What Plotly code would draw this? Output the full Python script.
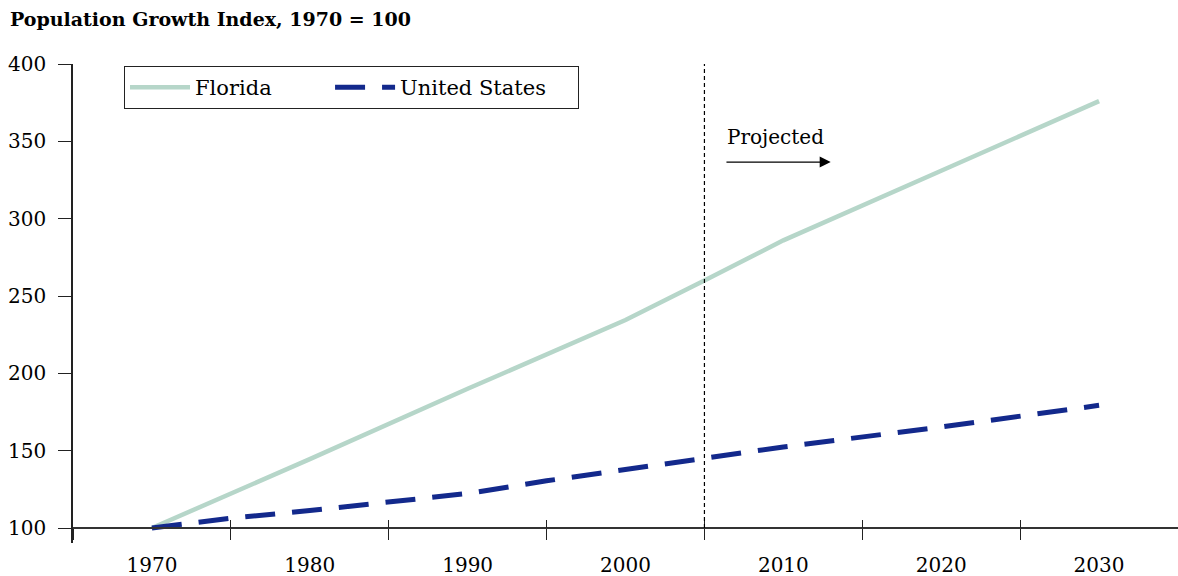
import plotly.graph_objects as go

# ---- data ----
fl_years = [1970, 1980, 1990, 2000, 2005, 2010, 2020, 2030]
fl_index = [100, 144.5, 190, 234.5, 260, 286, 331, 376]

us_years = [1970, 1975, 1980, 1985, 1990, 1995, 2000, 2005, 2010, 2020, 2030]
us_index = [100, 106.3, 111.3, 116.6, 122.3, 130.5, 137.8, 144.7, 152.4, 165.3, 179.3]

label_years = [1970, 1980, 1990, 2000, 2010, 2020, 2030]
tick_years = [1965, 1975, 1985, 1995, 2005, 2015, 2025]
y_ticks = [100, 150, 200, 250, 300, 350, 400]
projection_start = 2005

FONT = "DejaVu Serif"
W, H = 1178, 576
Y_MIN, Y_MAX = 90.3, 400
X_MIN, X_MAX = 1965, 2035

fig = go.Figure()
fig.add_trace(go.Scatter(
    x=fl_years, y=fl_index, mode="lines", name="Florida" + "\u00a0" * 8,
    line=dict(color="#b6d6c9", width=4.5),
))
fig.add_trace(go.Scatter(
    x=us_years, y=us_index, mode="lines", name="United States" + "\u00a0" * 4,
    line=dict(color="#13298c", width=5, dash="30px,17px"),
))

# dashed projection divider
fig.add_shape(type="line", xref="x", yref="y",
              x0=projection_start, x1=projection_start, y0=100, y1=Y_MAX,
              line=dict(color="black", width=1.2, dash="4px,3px"))

# "Projected" label and arrow
fig.add_annotation(x=2013.0, y=336.6, ax=2006.3, ay=336.6,
                   xref="x", yref="y", axref="x", ayref="y",
                   showarrow=True, arrowhead=2, arrowsize=1.7, arrowwidth=1.3,
                   arrowcolor="black", text="")
fig.add_annotation(x=2006.3, y=352.5, xref="x", yref="y", text="Projected",
                   showarrow=False, xanchor="left", yanchor="middle",
                   font=dict(family=FONT, size=20, color="black"))

xpos = (100 - Y_MIN) / (Y_MAX - Y_MIN)

fig.update_layout(
    width=W, height=H,
    margin=dict(l=73, r=0, t=64, b=33),
    paper_bgcolor="white", plot_bgcolor="white",
    font=dict(family=FONT, size=20, color="black"),
    title=dict(text="<b>Population Growth Index, 1970 = 100</b>",
               xref="container", yref="container",
               x=10 / W, xanchor="left", y=1 - 19 / H, yanchor="middle",
               font=dict(family=FONT, size=19, color="black")),
    showlegend=True,
    legend=dict(orientation="h", x=(124 - 73) / (W - 73), y=1 - 2 / (H - 97),
                xanchor="left", yanchor="top",
                bordercolor="#222", borderwidth=1, bgcolor="white",
                font=dict(family=FONT, size=21, color="black"),
                itemwidth=60, tracegroupgap=0),
    xaxis=dict(range=[X_MIN, X_MAX], anchor="free", position=xpos,
               showline=True, linecolor="#333", linewidth=1.5,
               showgrid=False, zeroline=False,
               tickmode="array", tickvals=label_years,
               ticktext=[str(v) for v in label_years],
               ticks="", ticklabelstandoff=19,
               minor=dict(tickmode="array", tickvals=tick_years,
                          ticks="outside", ticklen=11, tickwidth=1.3,
                          tickcolor="#222", showgrid=False),
               automargin=False),
    xaxis2=dict(range=[X_MIN, X_MAX], overlaying="x", anchor="free",
                position=xpos, side="bottom",
                showline=False, showgrid=False, zeroline=False,
                tickmode="array", tickvals=tick_years,
                ticks="inside", ticklen=8, tickwidth=1.3, tickcolor="#222",
                showticklabels=False, automargin=False),
    yaxis=dict(range=[Y_MIN, Y_MAX], showline=True, linecolor="#222",
               linewidth=1.5, showgrid=False, zeroline=False,
               tickmode="array", tickvals=y_ticks,
               ticks="outside", ticklen=13, tickwidth=1.3, tickcolor="#222",
               ticklabelstandoff=8, automargin=False),
)

# invisible trace to activate xaxis2
fig.add_trace(go.Scatter(x=[X_MIN], y=[Y_MAX], xaxis="x2", mode="markers",
                         marker=dict(opacity=0), showlegend=False,
                         hoverinfo="skip"))

fig.write_html("out.html", config={"displayModeBar": False},
               post_script="document.body.style.margin='0';"
                           "document.body.style.padding='0';")
